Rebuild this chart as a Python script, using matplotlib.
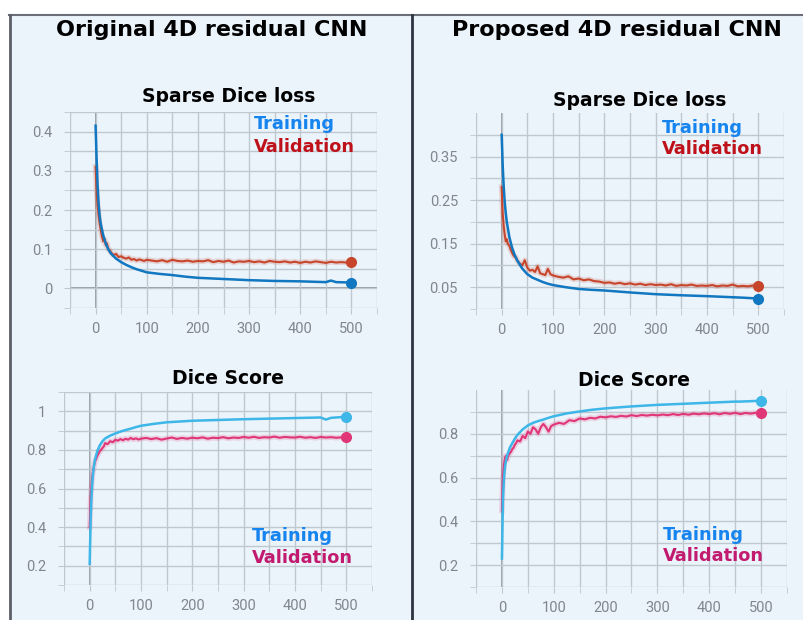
import matplotlib
matplotlib.use("Agg")
import matplotlib.pyplot as plt
from matplotlib.patches import Rectangle
from matplotlib.lines import Line2D

W, H = 804, 620

# ---- data ----
train_x = [0, 2, 4, 6, 8, 10, 15, 20, 25, 30, 40, 50, 60, 70, 80, 90, 100, 125, 150,
           175, 200, 250, 300, 350, 400, 450, 460, 470, 500]
val_x = [0, 2, 4, 6, 8, 10, 12, 15, 18, 20, 22, 25, 28, 30, 35, 40, 45, 50,
         55, 60, 65, 70, 75, 80, 85, 90, 95, 100] + list(range(110, 501, 10))

orig_loss_train = [0.415, 0.33, 0.26, 0.215, 0.185, 0.165, 0.135, 0.114, 0.099, 0.089,
                   0.076, 0.067, 0.060, 0.054, 0.049, 0.045, 0.041, 0.037, 0.034,
                   0.030, 0.027, 0.024, 0.021, 0.019, 0.018, 0.016, 0.020, 0.016, 0.015]
orig_loss_val = [0.31, 0.25, 0.21, 0.185, 0.165, 0.15, 0.135, 0.12, 0.125, 0.11,
                 0.115, 0.10, 0.097, 0.092, 0.085, 0.088, 0.08, 0.082, 0.078, 0.076,
                 0.079, 0.073, 0.075, 0.071, 0.074, 0.072, 0.070, 0.073,
                 0.071, 0.069, 0.072, 0.068, 0.073, 0.070, 0.069, 0.071, 0.068, 0.070,
                 0.069, 0.072, 0.067, 0.070, 0.068, 0.071, 0.066, 0.069, 0.068, 0.070,
                 0.067, 0.069, 0.066, 0.070, 0.068, 0.067, 0.069, 0.066, 0.068, 0.065,
                 0.068, 0.066, 0.069, 0.067, 0.065, 0.068, 0.066, 0.067, 0.066, 0.067]

prop_loss_train = [0.40, 0.33, 0.28, 0.245, 0.22, 0.20, 0.165, 0.142, 0.125, 0.112,
                   0.093, 0.080, 0.072, 0.067, 0.062, 0.058, 0.055, 0.050, 0.046,
                   0.044, 0.0425, 0.038, 0.034, 0.0315, 0.0295, 0.027, 0.0265, 0.026, 0.024]
prop_loss_val = [0.28, 0.22, 0.19, 0.17, 0.155, 0.16, 0.15, 0.145, 0.135, 0.13,
                 0.125, 0.12, 0.118, 0.112, 0.105, 0.10, 0.112, 0.095, 0.088, 0.090,
                 0.085, 0.098, 0.082, 0.080, 0.078, 0.092, 0.080, 0.077,
                 0.074, 0.072, 0.075, 0.068, 0.070, 0.066, 0.068, 0.064, 0.063, 0.060,
                 0.061, 0.058, 0.060, 0.057, 0.059, 0.056, 0.058, 0.055, 0.057, 0.055,
                 0.056, 0.054, 0.057, 0.053, 0.055, 0.054, 0.056, 0.053, 0.054, 0.053,
                 0.055, 0.052, 0.054, 0.053, 0.056, 0.052, 0.053, 0.052, 0.054, 0.052]

orig_dice_train = [0.21, 0.45, 0.58, 0.66, 0.71, 0.745, 0.795, 0.825, 0.845, 0.859,
                   0.874, 0.885, 0.895, 0.903, 0.910, 0.918, 0.925, 0.935, 0.943,
                   0.947, 0.951, 0.955, 0.959, 0.962, 0.965, 0.968, 0.957, 0.966, 0.972]
orig_dice_val = [0.40, 0.55, 0.63, 0.68, 0.71, 0.735, 0.75, 0.77, 0.785, 0.795,
                 0.80, 0.81, 0.82, 0.835, 0.83, 0.845, 0.84, 0.852, 0.848, 0.856,
                 0.85, 0.858, 0.853, 0.862, 0.855, 0.860, 0.854, 0.858,
                 0.862, 0.856, 0.861, 0.853, 0.859, 0.864, 0.857, 0.862, 0.858, 0.863,
                 0.860, 0.865, 0.858, 0.863, 0.861, 0.866, 0.860, 0.864, 0.862, 0.867,
                 0.863, 0.868, 0.862, 0.866, 0.864, 0.869, 0.863, 0.867, 0.865, 0.864,
                 0.868, 0.863, 0.866, 0.862, 0.867, 0.864, 0.866, 0.863, 0.865, 0.866]

prop_dice_train = [0.23, 0.50, 0.60, 0.65, 0.68, 0.70, 0.735, 0.757, 0.778, 0.795,
                   0.82, 0.838, 0.85, 0.858, 0.865, 0.873, 0.88, 0.893, 0.902,
                   0.910, 0.916, 0.925, 0.932, 0.937, 0.942, 0.947, 0.947, 0.948, 0.951]
prop_dice_val = [0.45, 0.60, 0.66, 0.69, 0.70, 0.68, 0.70, 0.71, 0.72, 0.73,
                 0.735, 0.75, 0.76, 0.77, 0.765, 0.79, 0.78, 0.81, 0.80, 0.83,
                 0.82, 0.80, 0.83, 0.845, 0.83, 0.81, 0.835, 0.842,
                 0.850, 0.845, 0.862, 0.858, 0.870, 0.866, 0.873, 0.870, 0.878, 0.875,
                 0.880, 0.877, 0.882, 0.879, 0.885, 0.881, 0.886, 0.883, 0.887, 0.884,
                 0.888, 0.885, 0.890, 0.886, 0.891, 0.887, 0.892, 0.889, 0.893, 0.890,
                 0.894, 0.889, 0.895, 0.891, 0.896, 0.890, 0.895, 0.892, 0.896, 0.895]

x_major = [0, 100, 200, 300, 400, 500]
x_minor = [-50, 50, 150, 250, 350, 450, 550]

BG = "#ebf3fb"
GRID = "#bfc8cf"
ZERO = "#8f959c"
TICK = "#80868e"
LOSS_TR, LOSS_VA = "#1077c0", "#c7462b"
DICE_TR, DICE_VA = "#3db6e8", "#e03677"
TXT_TR, TXT_VA_LOSS, TXT_VA_DICE = "#1684ef", "#bf1119", "#c21a6e"


def px(x, y):
    return x / W, 1 - y / H


fig = plt.figure(figsize=(W / 100, H / 100), dpi=100)
fig.patch.set_facecolor("white")

# panel background and frame lines
fig.add_artist(Rectangle(px(9, 620), (W - 9) / W, 605 / H, transform=fig.transFigure,
                         facecolor=BG, edgecolor="none", zorder=0))
fig.add_artist(Line2D([9 / W, 1], [1 - 15 / H] * 2, color="#6b6e78", lw=1.5))
fig.add_artist(Line2D([10 / W] * 2, [0, 1 - 15 / H], color="#5b5f6a", lw=2))
fig.add_artist(Line2D([412 / W] * 2, [0, 1 - 15 / H], color="#2e3340", lw=2))


def make_ax(box, ylim, y_major, y_minor, ylabels, zero_h):
    x0, y0, x1, y1 = box
    ax = fig.add_axes([x0 / W, 1 - y1 / H, (x1 - x0) / W, (y1 - y0) / H])
    ax.set_facecolor("none")
    ax.set_xlim(-50, 550)
    ax.set_ylim(*ylim)
    ax.set_xticks(x_major)
    ax.set_xticks(x_minor, minor=True)
    ax.set_yticks(y_major, labels=ylabels)
    ax.set_yticks(y_minor, minor=True)
    ax.grid(True, which="both", color=GRID, lw=1, zorder=0)
    for s in ax.spines.values():
        s.set_visible(False)
    ax.tick_params(which="both", length=4, color=GRID, labelcolor=TICK,
                   labelsize=10.5)
    ax.tick_params(axis="x", pad=6)
    ax.tick_params(axis="y", pad=9)
    for lab in ax.get_xticklabels() + ax.get_yticklabels():
        lab.set_fontfamily("Roboto")
    ax.axvline(0, color=ZERO, lw=1.3, zorder=1)
    if zero_h:
        ax.axhline(0, color=ZERO, lw=1.3, zorder=1)
    return ax


def draw(ax, tr, va, c_tr, c_va):
    ax.plot(val_x, va, color=c_va, lw=4, alpha=0.18, zorder=2)
    ax.plot(val_x, va, color=c_va, lw=1.5, zorder=3)
    ax.plot(train_x, tr, color=c_tr, lw=1.8, zorder=4)
    ax.plot(val_x[-1], va[-1], "o", color=c_va, ms=7, zorder=5)
    ax.plot(train_x[-1], tr[-1], "o", color=c_tr, ms=7, zorder=5)


def labels(x, y1, y2, c_va):
    fig.text(*px(x, y1), "Training", color=TXT_TR, fontsize=12.8, fontweight="bold",
             ha="left", va="center")
    fig.text(*px(x, y2), "Validation", color=c_va, fontsize=12.8, fontweight="bold",
             ha="left", va="center")


# top-left: original loss
ax = make_ax((70, 112, 377, 308), (-0.05, 0.45), [0, 0.1, 0.2, 0.3, 0.4],
             [-0.05, 0.05, 0.15, 0.25, 0.35, 0.45], ["0", "0.1", "0.2", "0.3", "0.4"], True)
draw(ax, orig_loss_train, orig_loss_val, LOSS_TR, LOSS_VA)

# top-right: proposed loss
ax = make_ax((476, 113, 784, 309), (0, 0.45), [0.05, 0.15, 0.25, 0.35],
             [0, 0.1, 0.2, 0.3, 0.4], ["0.05", "0.15", "0.25", "0.35"], False)
draw(ax, prop_loss_train, prop_loss_val, LOSS_TR, LOSS_VA)

# bottom-left: original dice
ax = make_ax((64, 392, 372, 585), (0.1, 1.1), [0.2, 0.4, 0.6, 0.8, 1.0],
             [0.1, 0.3, 0.5, 0.7, 0.9, 1.1], ["0.2", "0.4", "0.6", "0.8", "1"], False)
draw(ax, orig_dice_train, orig_dice_val, DICE_TR, DICE_VA)

# bottom-right: proposed dice
ax = make_ax((476, 390, 787, 587), (0.1, 1.0), [0.2, 0.4, 0.6, 0.8],
             [0.1, 0.3, 0.5, 0.7, 0.9], ["0.2", "0.4", "0.6", "0.8"], False)
draw(ax, prop_dice_train, prop_dice_val, DICE_TR, DICE_VA)

# headers and titles
fig.text(*px(212, 30), "Original 4D residual CNN", fontsize=16, fontweight="bold",
         ha="center", va="center")
fig.text(*px(617, 30), "Proposed 4D residual CNN", fontsize=16, fontweight="bold",
         ha="center", va="center")
fig.text(*px(229, 96), "Sparse Dice loss", fontsize=13.5, fontweight="bold",
         ha="center", va="center")
fig.text(*px(640, 100), "Sparse Dice loss", fontsize=13.5, fontweight="bold",
         ha="center", va="center")
fig.text(*px(228, 378), "Dice Score", fontsize=13.5, fontweight="bold",
         ha="center", va="center")
fig.text(*px(634, 380), "Dice Score", fontsize=13.5, fontweight="bold",
         ha="center", va="center")

labels(254, 124, 147, TXT_VA_LOSS)
labels(662, 128, 149, TXT_VA_LOSS)
labels(252, 536, 558, TXT_VA_DICE)
labels(663, 535, 556, TXT_VA_DICE)

fig.savefig("out.png", dpi=100, facecolor=fig.get_facecolor())
